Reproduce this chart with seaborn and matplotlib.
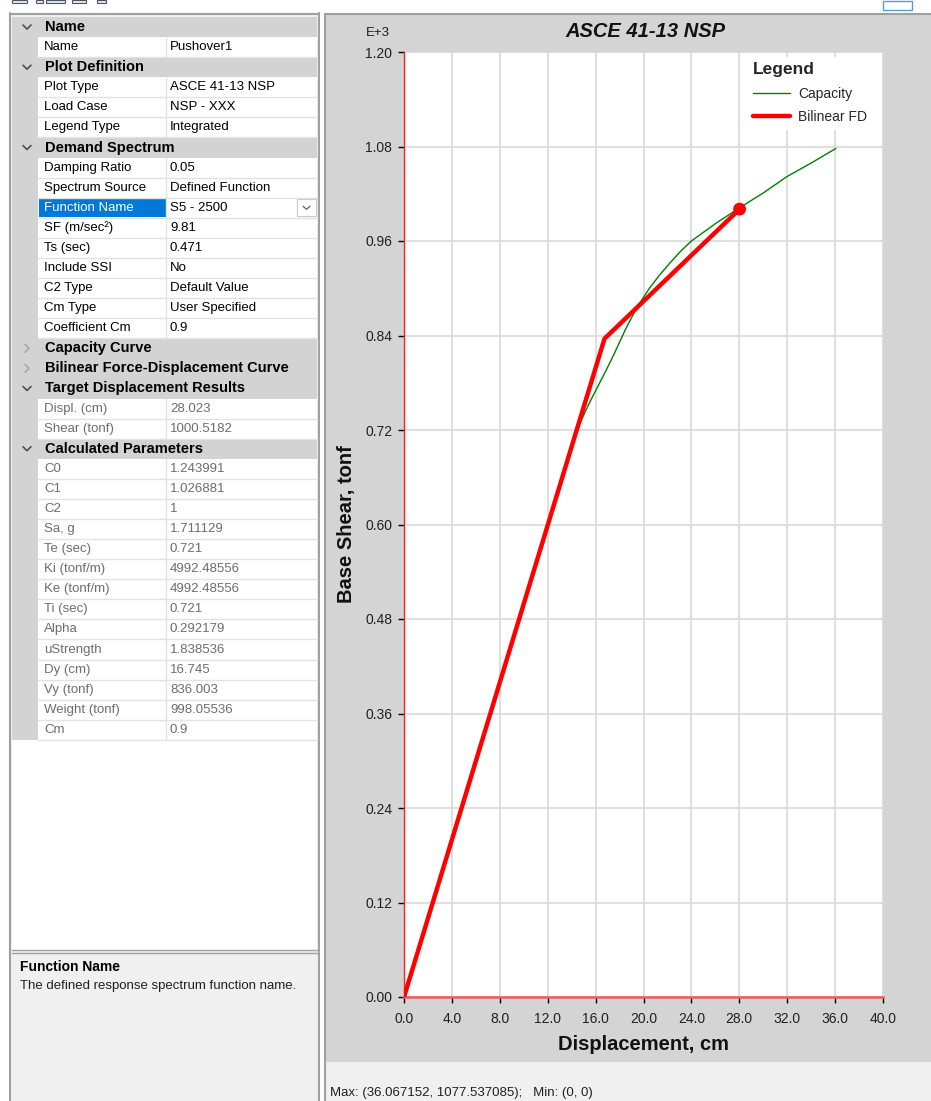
import numpy as np
import matplotlib
matplotlib.use('Agg')
import matplotlib.pyplot as plt
from matplotlib.patches import Rectangle
import seaborn as sns

# ---- chart data ----
# capacity curve, displacement in cm, base shear in tonf
cap_disp = [0.0, 14.4, 15.5, 16.75, 17.5, 18.5, 19.5, 20.5, 21.3, 22.2, 23.1, 24.0, 26.0,
            28.0, 30.0, 32.0, 34.0, 36.067152]
cap_shear = [0.0, 719.0, 755.0, 792.0, 815.0, 848.0, 877.0, 900.0, 916.0, 932.0, 947.0, 960.0,
             982.0, 1002.0, 1021.0, 1042.0, 1059.0, 1077.537085]

# bilinear force-displacement curve
bilin_disp = [0.0, 16.745, 28.023]
bilin_shear = [0.0, 836.003, 1000.5182]

# target displacement point
target_disp = [28.023]
target_shear = [1000.5182]

x_ticks = [0.0, 4.0, 8.0, 12.0, 16.0, 20.0, 24.0, 28.0, 32.0, 36.0, 40.0]
y_ticks = [0.00, 0.12, 0.24, 0.36, 0.48, 0.60, 0.72, 0.84, 0.96, 1.08, 1.20]

# ---- property grid on the left ----
# h = expanded header, c = collapsed header, p = property, s = selected, r = read only
prop_kinds = ['h', 'p', 'h', 'p', 'p', 'p', 'h', 'p', 'p', 's', 'p', 'p', 'p', 'p', 'p', 'p',
              'c', 'c', 'h', 'r', 'r', 'h',
              'r', 'r', 'r', 'r', 'r', 'r', 'r', 'r', 'r', 'r', 'r', 'r', 'r', 'r']
prop_names = ['Name', 'Name', 'Plot Definition', 'Plot Type', 'Load Case', 'Legend Type',
              'Demand Spectrum', 'Damping Ratio', 'Spectrum Source', 'Function Name',
              'SF (m/sec²)', 'Ts (sec)', 'Include SSI', 'C2 Type', 'Cm Type', 'Coefficient Cm',
              'Capacity Curve', 'Bilinear Force-Displacement Curve', 'Target Displacement Results',
              'Displ. (cm)', 'Shear (tonf)', 'Calculated Parameters',
              'C0', 'C1', 'C2', 'Sa, g', 'Te (sec)', 'Ki (tonf/m)', 'Ke (tonf/m)', 'Ti (sec)',
              'Alpha', 'uStrength', 'Dy (cm)', 'Vy (tonf)', 'Weight (tonf)', 'Cm']
prop_values = ['', 'Pushover1', '', 'ASCE 41-13 NSP', 'NSP - XXX', 'Integrated',
               '', '0.05', 'Defined Function', 'S5 - 2500',
               '9.81', '0.471', 'No', 'Default Value', 'User Specified', '0.9',
               '', '', '',
               '28.023', '1000.5182', '',
               '1.243991', '1.026881', '1', '1.711129', '0.721', '4992.48556', '4992.48556', '0.721',
               '0.292179', '1.838536', '16.745', '836.003', '998.05536', '0.9']

sns.set_theme(style='white')
plt.rcParams['font.family'] = ['Liberation Sans', 'DejaVu Sans']

W, H = 931, 1101
fig = plt.figure(figsize=(W / 100, H / 100), dpi=100)
fig.patch.set_facecolor('white')

# background canvas in pixel coordinates
bg = fig.add_axes([0, 0, 1, 1])
bg.set_xlim(0, W)
bg.set_ylim(H, 0)
bg.axis('off')

def box(x0, y0, x1, y1, fc, ec='none', lw=0):
    bg.add_patch(Rectangle((x0, y0), x1 - x0, y1 - y0, facecolor=fc, edgecolor=ec, linewidth=lw))

# toolbar remnants at the top
for x0, x1 in [(12, 27), (36, 43), (46, 65), (72, 86), (97, 106)]:
    box(x0, 0, x1, 3, '#e6e9ee', '#4a5462', 0.8)
box(883, 1, 912, 10, 'white', '#5b9bd5', 1)

# chart panel + status bar
box(325, 14, W, 1062, '#d4d4d4')
box(325, 1062, W, H, '#f0f0f0')
bg.plot([325, W], [14, 14], color='#a0a0a0', lw=1.5)
bg.plot([325, 325], [14, H], color='#a0a0a0', lw=1.5)
bg.text(330, 1093, 'Max: (36.067152, 1077.537085);   Min: (0, 0)', fontsize=9.5,
        va='center', ha='left', color='#202020')

# left panel frame
box(9, 13, 320, H, '#f0f0f0')
bg.plot([10, 10], [13, H], color='#a0a0a0', lw=1.5)
bg.plot([319, 319], [13, H], color='#a0a0a0', lw=1.5)
bg.plot([10, 319], [14, 14], color='#a0a0a0', lw=1.5)

row_h = 20.08
top = 17
box(12, top, 317, 950, 'white')
for i, (kind, name, val) in enumerate(zip(prop_kinds, prop_names, prop_values)):
    y0 = top + i * row_h
    cy = y0 + row_h / 2
    if kind in ('h', 'c'):
        box(12, y0, 317, y0 + row_h, '#d3d3d3')
        if kind == 'h':
            bg.plot([23, 27, 31], [cy - 2, cy + 2, cy - 2], color='#505050', lw=1.2)
        else:
            bg.plot([25, 29, 25], [cy - 4, cy, cy + 4], color='#a8a8a8', lw=1.2)
        bg.text(45, cy, name, fontsize=10.5, fontweight='bold', va='center', ha='left', color='black')
        continue
    box(12, y0, 38, y0 + row_h, '#d3d3d3')
    bg.plot([38, 317], [y0 + row_h, y0 + row_h], color='#e2e2e2', lw=1)
    bg.plot([166, 166], [y0, y0 + row_h], color='#e2e2e2', lw=1)
    txt_col = '#6d6d6d' if kind == 'r' else 'black'
    if kind == 's':
        box(38.5, y0 + 0.5, 165.5, y0 + row_h - 0.5, '#0078d7')
        bg.text(44, cy, name, fontsize=9.5, va='center', ha='left', color='white')
        box(297, y0 + 1.5, 316, y0 + row_h - 1.5, 'white', '#c8c8c8', 0.8)
        bg.plot([303, 306.5, 310], [cy - 1.5, cy + 1.5, cy - 1.5], color='#606060', lw=0.9)
    else:
        bg.text(44, cy, name, fontsize=9.5, va='center', ha='left', color=txt_col)
    bg.text(170, cy, val, fontsize=9.5, va='center', ha='left', color=txt_col)

# description panel
bg.plot([12, 317], [950, 950], color='#a0a0a0', lw=1)
box(12, 952, 317, H, '#f0f0f0')
bg.plot([12, 317], [953, 953], color='#a0a0a0', lw=1)
bg.text(20, 967, 'Function Name', fontsize=10, fontweight='bold', va='center', ha='left', color='black')
bg.text(20, 986, 'The defined response spectrum function name.', fontsize=9.5,
        va='center', ha='left', color='#202020')

# ---- the chart ----
ax = fig.add_axes([404 / W, (H - 997) / H, 479 / W, 945 / H])
ax.set_facecolor('white')

cap_y = np.array(cap_shear) / 1000.0
bilin_y = np.array(bilin_shear) / 1000.0
target_y = np.array(target_shear) / 1000.0

sns.lineplot(x=cap_disp, y=cap_y, ax=ax, color='#008000', lw=1.0, sort=False,
             label='Capacity', zorder=3)
sns.lineplot(x=bilin_disp, y=bilin_y, ax=ax, color='#ff0000', lw=3.2, sort=False,
             label='Bilinear FD', zorder=4)
sns.scatterplot(x=target_disp, y=target_y, ax=ax, color='#ff0000', s=85,
                edgecolor='none', legend=False, zorder=5)

ax.set_xlim(0, 40)
ax.set_ylim(0, 1.2)
ax.set_xticks(x_ticks)
ax.set_yticks(y_ticks)
ax.set_xticklabels([f'{v:.1f}' for v in x_ticks])
ax.set_yticklabels([f'{v:.2f}' for v in y_ticks])
ax.grid(True, color='#d9d9d9', lw=1.2)
ax.set_axisbelow(True)
ax.tick_params(axis='both', which='major', direction='out', length=4.5, width=1,
               color='black', labelsize=10, labelcolor='#202020')
ax.tick_params(axis='x', pad=6)
ax.tick_params(axis='y', pad=4)
ax.xaxis.set_ticks_position('bottom')
ax.yaxis.set_ticks_position('left')
for side in ['top', 'right']:
    ax.spines[side].set_visible(False)
ax.spines['left'].set_color('#ff2020')
ax.spines['left'].set_linewidth(1.0)
ax.spines['bottom'].set_color('#f05a5a')
ax.spines['bottom'].set_linewidth(1.8)

ax.set_xlabel('Displacement, cm', fontsize=14.5, fontweight='bold', color='#111111')
ax.set_ylabel('Base Shear, tonf', fontsize=14.5, fontweight='bold', color='#111111')
ax.xaxis.set_label_coords(0.499, -0.040)
ax.yaxis.set_label_coords(-0.100, 0.5)
ax.text(0.503, 1.022, 'ASCE 41-13 NSP', transform=ax.transAxes, fontsize=14.5,
        fontweight='bold', fontstyle='italic', ha='center', va='center', color='#111111')
ax.text(-0.054, 1.02, 'E+3', transform=ax.transAxes, fontsize=9.5,
        ha='center', va='center', color='#202020')

ax.legend(loc='upper left', bbox_to_anchor=(0.716, 0.995), borderaxespad=0,
          title='Legend', title_fontproperties={'weight': 'bold', 'size': 12.5},
          fontsize=10, alignment='left', frameon=True, facecolor='white',
          edgecolor='none', framealpha=1, handlelength=2.7, handletextpad=0.6,
          labelspacing=0.68, borderpad=0.4)

fig.savefig('out.png', dpi=100)
